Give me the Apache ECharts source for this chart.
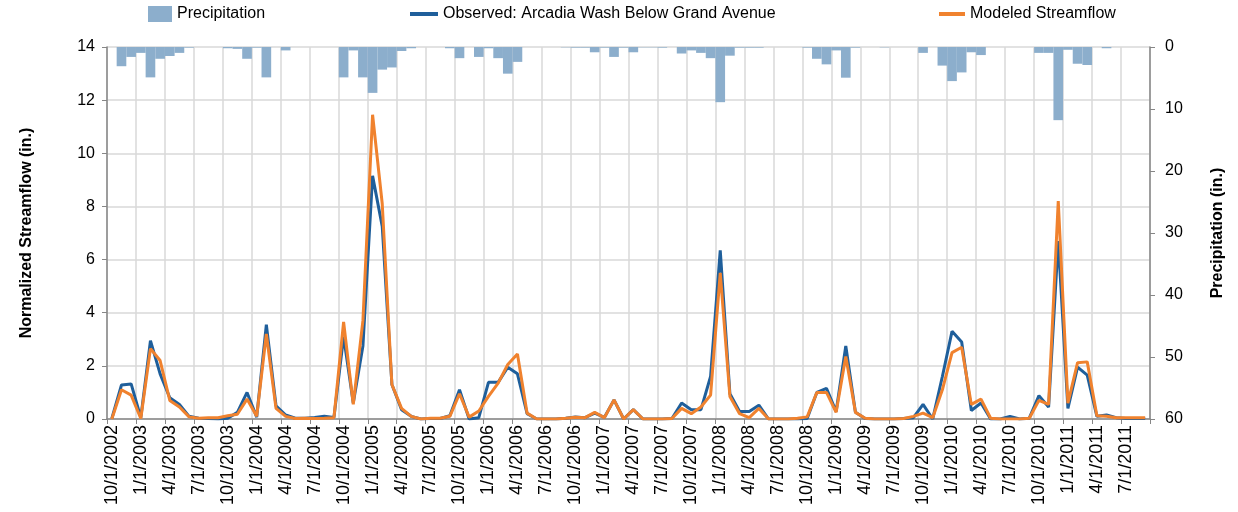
<!DOCTYPE html>
<html>
<head>
<meta charset="utf-8">
<script src="https://cdn.jsdelivr.net/npm/echarts@6/dist/echarts.min.js"></script>
<style>
  html, body { margin: 0; padding: 0; background: #fff; }
  #chart { width: 1238px; height: 512px; }
</style>
</head>
<body>
<div id="chart"></div>
<script>
// monthly, 10/1/2002 .. 9/1/2011
var startYear = 2002, startMonth = 10, monthCount = 108;
var months = [];
for (var k = 0; k < monthCount; k++) {
  var m = (startMonth - 1 + k) % 12 + 1;
  var y = startYear + Math.floor((startMonth - 1 + k) / 12);
  months.push(m + '/1/' + y);
}

// precipitation (in.), right axis, hanging from top
var precipitation = [
  0, 3.1, 1.6, 0.95, 4.9, 1.9, 1.45, 0.95, 0.1, 0, 0, 0,
  0.2, 0.3, 1.9, 0.1, 4.9, 0, 0.55, 0, 0, 0, 0, 0,
  4.9, 0.55, 4.9, 7.4, 3.65, 3.3, 0.65, 0.2, 0, 0, 0, 0.2,
  1.8, 0, 1.6, 0.2, 1.8, 4.3, 2.4, 0, 0, 0, 0, 0.05,
  0.1, 0.1, 0.85, 0.1, 1.6, 0.1, 0.85, 0.05, 0.05, 0.1, 0, 1.05,
  0.55, 0.95, 1.8, 8.9, 1.4, 0.1, 0.1, 0.1, 0, 0, 0, 0,
  0.1, 1.9, 2.8, 0.55, 4.95, 0.1, 0, 0, 0.05, 0, 0, 0,
  0.95, 0, 3.0, 5.5, 4.1, 0.85, 1.3, 0, 0, 0, 0, 0,
  0.95, 0.95, 11.8, 0.45, 2.7, 2.9, 0, 0.2, 0, 0, 0, 0
];

// observed streamflow (in.)
var observed = [
  0.02, 1.28, 1.32, 0.05, 2.95, 1.7, 0.8, 0.55, 0.1, 0.03, 0.02, 0,
  0.03, 0.25, 1.0, 0.07, 3.55, 0.5, 0.15, 0.03, 0.03, 0.06, 0.1, 0.06,
  3.1, 0.6, 2.75, 9.15, 7.25, 1.3, 0.35, 0.1, 0, 0.02, 0.02, 0.12,
  1.1, 0, 0.05, 1.38, 1.38, 1.95, 1.7, 0.2, 0, 0, 0, 0.03,
  0.08, 0.05, 0.22, 0.06, 0.72, 0, 0.35, 0, 0, 0, 0.02, 0.6,
  0.35, 0.35, 1.6, 6.35, 0.95, 0.28, 0.28, 0.52, 0, 0, 0, 0,
  0.02, 1.0, 1.15, 0.28, 2.75, 0.25, 0.02, 0, 0, 0, 0.02, 0.05,
  0.55, 0, 1.6, 3.3, 2.9, 0.32, 0.6, 0, 0, 0.1, 0, 0.03,
  0.88, 0.45, 6.7, 0.4, 1.95, 1.65, 0.1, 0.15, 0.05, 0.02, 0.02, 0.02
];

// modeled streamflow (in.)
var modeled = [
  0, 1.1, 0.9, 0.02, 2.65, 2.2, 0.7, 0.45, 0.08, 0.03, 0.05, 0.05,
  0.12, 0.18, 0.75, 0.1, 3.2, 0.4, 0.1, 0.02, 0.03, 0.02, 0.03, 0.05,
  3.65, 0.55, 3.7, 11.45, 8.1, 1.3, 0.4, 0.1, 0, 0.03, 0.03, 0.1,
  0.95, 0.07, 0.3, 0.85, 1.35, 2.05, 2.45, 0.22, 0, 0, 0, 0.03,
  0.07, 0.05, 0.25, 0.05, 0.72, 0, 0.35, 0, 0, 0, 0.02, 0.4,
  0.2, 0.45, 0.9, 5.5, 0.85, 0.2, 0.05, 0.4, 0, 0, 0, 0.03,
  0.08, 1.0, 1.0, 0.25, 2.35, 0.25, 0.03, 0, 0, 0, 0.02, 0.1,
  0.22, 0.05, 1.1, 2.5, 2.7, 0.55, 0.75, 0.03, 0, 0, 0, 0.03,
  0.7, 0.55, 8.2, 0.6, 2.12, 2.15, 0.12, 0.1, 0.05, 0.05, 0.05, 0.05
];

var seriesNames = ['Precipitation', 'Observed: Arcadia Wash Below Grand Avenue', 'Modeled Streamflow'];
var fontFamily = '"Liberation Sans", Arial, sans-serif';
var axisGray = '#868686';
var gridGray = '#d9d9d9';

var chart = echarts.init(document.getElementById('chart'));
var option = {
  animation: false,
  backgroundColor: '#fff',
  textStyle: { fontFamily: fontFamily },
  legend: [
    { data: [seriesNames[0]], left: 148, top: 6, padding: 0, itemWidth: 24, itemHeight: 16, icon: 'rect',
      textStyle: { fontSize: 16, color: '#000' } },
    { data: [seriesNames[1]], left: 410, top: 6, padding: 0, itemWidth: 28, itemHeight: 4, icon: 'rect',
      textStyle: { fontSize: 16, color: '#000' } },
    { data: [seriesNames[2]], left: 939, top: 6, padding: 0, itemWidth: 26, itemHeight: 4, icon: 'rect',
      textStyle: { fontSize: 16, color: '#000' } }
  ],
  grid: { left: 107, right: 88, top: 47, bottom: 93 },
  xAxis: {
    type: 'category',
    data: months,
    boundaryGap: true,
    axisLine: { lineStyle: { color: axisGray, width: 1.5 } },
    axisTick: { show: true, interval: 2, length: 5, lineStyle: { color: axisGray } },
    axisLabel: { interval: 2, rotate: 90, fontSize: 18, color: '#000', margin: 6 },
    splitLine: { show: true, interval: 2, lineStyle: { color: gridGray, width: 1.5 } }
  },
  yAxis: [
    {
      type: 'value', min: 0, max: 14, interval: 2,
      name: 'Normalized Streamflow (in.)', nameLocation: 'middle', nameGap: 72, nameRotate: 90,
      nameTextStyle: { fontSize: 16, fontWeight: 'bold', color: '#000' },
      axisLine: { show: true, lineStyle: { color: axisGray, width: 1.5 } },
      axisTick: { show: true, length: 5, lineStyle: { color: axisGray } },
      axisLabel: { fontSize: 16, color: '#000', margin: 12 },
      splitLine: { show: true, lineStyle: { color: gridGray, width: 1.5 } }
    },
    {
      type: 'value', min: 0, max: 60, interval: 10, inverse: true, position: 'right',
      name: 'Precipitation (in.)', nameLocation: 'middle', nameGap: 60, nameRotate: 90,
      nameTextStyle: { fontSize: 16, fontWeight: 'bold', color: '#000' },
      axisLine: { show: true, lineStyle: { color: axisGray, width: 1.5 } },
      axisTick: { show: true, length: 5, lineStyle: { color: axisGray } },
      axisLabel: { fontSize: 16, color: '#000', margin: 15 },
      splitLine: { show: false }
    }
  ],
  series: [
    {
      name: seriesNames[0], type: 'bar', yAxisIndex: 1, data: precipitation,
      barCategoryGap: '0%', itemStyle: { color: '#8CAECC' }
    },
    {
      name: seriesNames[1], type: 'line', yAxisIndex: 0, data: observed,
      symbol: 'none', lineStyle: { color: '#1F5F9B', width: 3 }, itemStyle: { color: '#1F5F9B' }
    },
    {
      name: seriesNames[2], type: 'line', yAxisIndex: 0, data: modeled,
      symbol: 'none', lineStyle: { color: '#F0822E', width: 3 }, itemStyle: { color: '#F0822E' }
    }
  ]
};
chart.setOption(option);
</script>
</body>
</html>
